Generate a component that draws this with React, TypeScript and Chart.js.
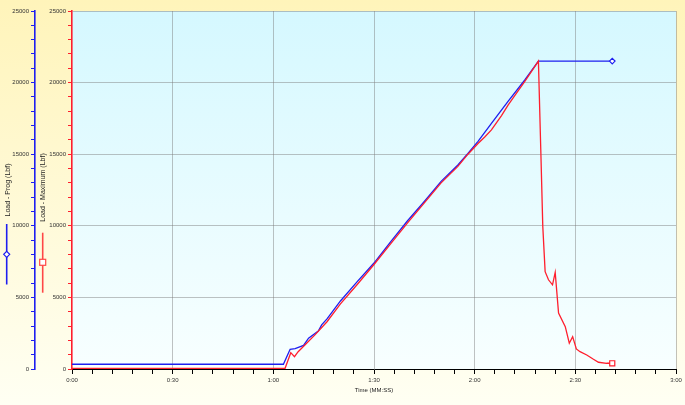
import React, { useEffect, useRef } from 'react';
import { Chart, registerables } from 'chart.js';
Chart.register(...registerables);

// Time in seconds
const progTimes = [0, 63, 65, 66.5, 69, 70.5, 73.4, 74.4, 76, 80, 85, 90, 95, 100, 105, 110, 115, 118, 121, 125, 130, 135, 139, 161];
const progValues = [330, 330, 1380, 1420, 1650, 2150, 2650, 3080, 3500, 4750, 6100, 7400, 8900, 10350, 11700, 13100, 14250, 15050, 15900, 17150, 18700, 20200, 21500, 21500];

const maxTimes = [0, 63.5, 65.2, 66.3, 67.4, 69.4, 72.4, 76, 80, 85, 90, 95, 100, 105, 110, 115, 118, 121, 123, 125, 128, 130, 135, 139, 139.7, 140.3, 141, 142, 143.2, 144, 145, 147, 148.2, 149.2, 150.3, 151.4, 153.4, 155.4, 156.9, 159.3, 161];
const maxValues = [50, 50, 1140, 860, 1210, 1680, 2380, 3300, 4550, 5900, 7300, 8750, 10200, 11600, 13000, 14150, 15000, 15750, 16200, 16700, 17700, 18450, 20100, 21500, 15340, 9960, 6800, 6230, 5880, 6740, 3900, 2960, 1800, 2260, 1400, 1210, 980, 680, 470, 400, 400];

const xMin = 0;
const xMax = 180;
const xMinorStep = 6;
const xLabelStep = 30;
const yMin = 0;
const yMax = 25000;
const yMinorStep = 1000;
const yLabelStep = 5000;

const progTitle = 'Load - Prog (Lbf)';
const maxTitle = 'Load - Maximum (Lbf)';
const xTitle = 'Time (MM:SS)';

const BLUE = 'rgb(30,30,240)';
const RED = 'rgb(255,30,45)';
const GRID = 'rgba(120,120,120,0.45)';
const FONT = '"Liberation Sans", Arial, sans-serif';

const fmtTime = (v: number) => `${Math.floor(v / 60)}:${String(Math.round(v % 60)).padStart(2, '0')}`;

const bgPlugin = {
  id: 'bgPlugin',
  beforeDraw(chart: any) {
    const { ctx, width, height, chartArea: a } = chart;
    ctx.save();
    let g = ctx.createLinearGradient(0, 0, 0, height);
    g.addColorStop(0, '#FFF4BA');
    g.addColorStop(1, '#FFFFF3');
    ctx.fillStyle = g;
    ctx.fillRect(0, 0, width, height);
    g = ctx.createLinearGradient(0, a.top, 0, a.bottom);
    g.addColorStop(0, '#D5F8FF');
    g.addColorStop(1, '#F8FFFF');
    ctx.fillStyle = g;
    ctx.fillRect(a.left, a.top, a.right - a.left, a.bottom - a.top);
    ctx.restore();
  },
};

const drawRot = (ctx: CanvasRenderingContext2D, text: string, x: number, y: number) => {
  ctx.save();
  ctx.translate(x, y);
  ctx.rotate(-Math.PI / 2);
  ctx.fillText(text, 0, 0);
  ctx.restore();
};

const titlePlugin = {
  id: 'titlePlugin',
  afterDraw(chart: any) {
    const { ctx } = chart;
    const sb = chart.scales.yBlue;
    const sr = chart.scales.yRed;
    ctx.save();
    ctx.font = `7px ${FONT}`;
    ctx.fillStyle = '#222';
    ctx.textAlign = 'center';
    ctx.textBaseline = 'middle';
    drawRot(ctx, progTitle, sb.left + 8.5, 190);
    drawRot(ctx, maxTitle, sr.left + 8.3, 187.5);

    // blue legend symbol
    const bx = sb.left + 6.7;
    ctx.strokeStyle = BLUE;
    ctx.lineWidth = 1.6;
    ctx.beginPath();
    ctx.moveTo(bx, 224);
    ctx.lineTo(bx, 284.5);
    ctx.stroke();
    ctx.beginPath();
    ctx.moveTo(bx, 251.3);
    ctx.lineTo(bx + 3, 254.3);
    ctx.lineTo(bx, 257.3);
    ctx.lineTo(bx - 3, 254.3);
    ctx.closePath();
    ctx.fillStyle = '#fff';
    ctx.fill();
    ctx.lineWidth = 1.2;
    ctx.stroke();

    // red legend symbol
    const rx = sr.left + 7.7;
    ctx.strokeStyle = 'rgb(255,70,70)';
    ctx.lineWidth = 1.6;
    ctx.beginPath();
    ctx.moveTo(rx, 232.7);
    ctx.lineTo(rx, 292.7);
    ctx.stroke();
    ctx.fillStyle = '#fff';
    ctx.fillRect(rx - 3, 259.3, 6, 6);
    ctx.lineWidth = 1.2;
    ctx.strokeRect(rx - 3, 259.3, 6, 6);
    ctx.restore();
  },
};

export default function App() {
  const ref = useRef<HTMLCanvasElement>(null);
  useEffect(() => {
    if (!ref.current) return;
    const lastR = maxTimes.length - 1;
    const lastB = progTimes.length - 1;
    const chart = new Chart(ref.current, {
      type: 'line',
      data: {
        datasets: [
          {
            label: maxTitle,
            data: maxTimes.map((t, i) => ({ x: t, y: maxValues[i] })),
            borderColor: RED,
            borderWidth: 1.3,
            yAxisID: 'yRed',
            pointStyle: 'rect',
            pointRadius: (c: any) => (c.dataIndex === lastR ? 3.6 : 0),
            pointBackgroundColor: '#fff',
            pointBorderColor: RED,
            pointBorderWidth: 1.2,
            tension: 0,
          },
          {
            label: progTitle,
            data: progTimes.map((t, i) => ({ x: t, y: progValues[i] })),
            borderColor: BLUE,
            borderWidth: 1.3,
            yAxisID: 'yBlue',
            pointStyle: 'rectRot',
            pointRadius: (c: any) => (c.dataIndex === lastB ? 2.8 : 0),
            pointBackgroundColor: '#fff',
            pointBorderColor: BLUE,
            pointBorderWidth: 1.2,
            tension: 0,
          },
        ],
      },
      options: {
        responsive: false,
        animation: false,
        devicePixelRatio: 1,
        layout: { padding: { left: 0, top: 11, right: 9, bottom: 0 } },
        plugins: { legend: { display: false }, tooltip: { enabled: false } },
        scales: {
          x: {
            type: 'linear',
            position: 'bottom',
            min: xMin,
            max: xMax,
            afterFit: (s: any) => {
              s.height = 36;
            },
            ticks: {
              stepSize: xMinorStep,
              autoSkip: false,
              maxRotation: 0,
              padding: 3,
              color: '#333',
              font: { size: 6, family: FONT },
              callback: (v: any) => (Number(v) % xLabelStep === 0 ? fmtTime(Number(v)) : ''),
            },
            grid: {
              color: (c: any) => (c.tick && c.tick.value % xLabelStep === 0 && c.tick.value > 0 ? GRID : 'rgba(0,0,0,0)'),
              tickColor: '#000',
              tickLength: 5,
              lineWidth: 1,
            },
            border: { color: '#000', width: 1 },
            title: {
              display: true,
              text: xTitle,
              color: '#222',
              font: { size: 6, family: FONT },
              padding: { top: 0, bottom: 11 },
            },
          },
          yRed: {
            type: 'linear',
            position: 'left',
            weight: 0,
            min: yMin,
            max: yMax,
            afterFit: (s: any) => {
              s.width = 37;
            },
            ticks: {
              stepSize: yMinorStep,
              autoSkip: false,
              padding: 2,
              color: '#333',
              font: { size: 6, family: FONT },
              callback: (v: any) => (Number(v) % yLabelStep === 0 ? String(v) : ''),
            },
            grid: {
              color: (c: any) => (c.tick && c.tick.value % yLabelStep === 0 && c.tick.value > 0 ? GRID : 'rgba(0,0,0,0)'),
              tickColor: RED,
              tickLength: 4,
              lineWidth: 1,
            },
            border: { color: RED, width: 1.6 },
          },
          yBlue: {
            type: 'linear',
            position: 'left',
            weight: 1,
            min: yMin,
            max: yMax,
            afterFit: (s: any) => {
              s.width = 35;
            },
            ticks: {
              stepSize: yMinorStep,
              autoSkip: false,
              padding: 2,
              color: '#333',
              font: { size: 6, family: FONT },
              callback: (v: any) => (Number(v) % yLabelStep === 0 ? String(v) : ''),
            },
            grid: {
              drawOnChartArea: false,
              tickColor: BLUE,
              tickLength: 4,
              lineWidth: 1,
            },
            border: { color: BLUE, width: 1.6 },
          },
        },
      },
      plugins: [bgPlugin, titlePlugin],
    } as any);
    return () => chart.destroy();
  }, []);
  return (
    <div style={{ position: 'absolute', left: 0, top: 0, width: 685, height: 405 }}>
      <canvas ref={ref} width={685} height={405} style={{ display: 'block' }} />
    </div>
  );
}
